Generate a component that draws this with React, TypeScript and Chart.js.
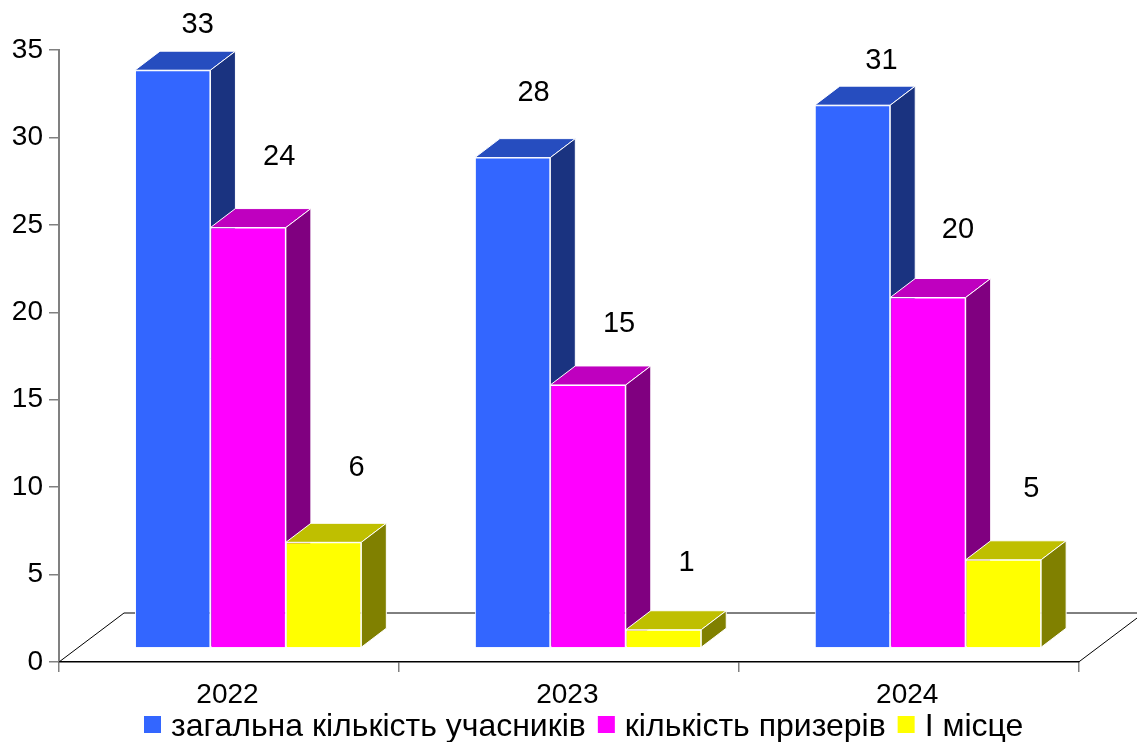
import React, { useEffect, useRef } from "react";
import { Chart, registerables } from "chart.js";

Chart.register(...registerables);

const years = ["2022", "2023", "2024"];
const seriesNames = ["загальна кількість учасників", "кількість призерів", "І місце"];
const totalParticipants = [33, 28, 31];
const prizeWinners = [24, 15, 20];
const firstPlace = [6, 1, 5];

const FONT = "'Liberation Sans', Arial, sans-serif";
const DEPTH_X = 25;
const DEPTH_Y = 19;
const palette = [
  { front: "#3366FF", top: "#264DBF", side: "#1A3380" },
  { front: "#FF00FF", top: "#BF00BF", side: "#800080" },
  { front: "#FFFF00", top: "#BFBF00", side: "#808000" },
];
// label placement relative to the centre/top of each bar's front face [series][year]
const labelNudge = [
  [[25, -47], [21, -67], [29, -46]],
  [[31, -73], [31, -63], [30, -70]],
  [[33, -76], [23, -69], [28, -73]],
];

const box3d = {
  id: "box3d",
  beforeDatasetsDraw(chart: any) {
    const { ctx, scales } = chart;
    const x = scales.x;
    const y0 = scales.y.getPixelForValue(0);
    ctx.save();
    ctx.strokeStyle = "#000";
    ctx.lineWidth = 1;
    ctx.beginPath();
    ctx.moveTo(x.left, y0);
    ctx.lineTo(x.left + 65, y0 - 49);
    ctx.lineTo(x.right + 65, y0 - 49);
    ctx.lineTo(x.right, y0);
    ctx.stroke();
    ctx.lineJoin = "round";
    ctx.strokeStyle = "#fff";
    palette.forEach((c, di) => {
      for (const bar of chart.getDatasetMeta(di).data as any[]) {
        const half = bar.width / 2;
        const l = bar.x - half;
        const r = bar.x + half;
        const t = bar.y;
        const b = bar.base;
        ctx.fillStyle = c.top;
        ctx.beginPath();
        ctx.moveTo(l, t);
        ctx.lineTo(l + DEPTH_X, t - DEPTH_Y);
        ctx.lineTo(r + DEPTH_X, t - DEPTH_Y);
        ctx.lineTo(r, t);
        ctx.closePath();
        ctx.fill();
        ctx.stroke();
        ctx.fillStyle = c.side;
        ctx.beginPath();
        ctx.moveTo(r, t);
        ctx.lineTo(r + DEPTH_X, t - DEPTH_Y);
        ctx.lineTo(r + DEPTH_X, b - DEPTH_Y);
        ctx.lineTo(r, b);
        ctx.closePath();
        ctx.fill();
        ctx.stroke();
      }
    });
    ctx.restore();
  },
  afterDraw(chart: any) {
    const { ctx } = chart;
    ctx.save();
    ctx.fillStyle = "#000";
    ctx.font = `29px ${FONT}`;
    ctx.textAlign = "center";
    ctx.textBaseline = "middle";
    chart.data.datasets.forEach((ds: any, di: number) => {
      chart.getDatasetMeta(di).data.forEach((bar: any, i: number) => {
        const [dx, dy] = labelNudge[di][i];
        ctx.fillText(String(ds.data[i].y), bar.x + dx, bar.y + dy + 2);
      });
    });
    // legend row
    ctx.font = `32px ${FONT}`;
    ctx.textAlign = "left";
    let cx = 144;
    chart.data.datasets.forEach((ds: any) => {
      ctx.fillStyle = ds.backgroundColor;
      ctx.fillRect(cx, 716, 17, 17);
      ctx.fillStyle = "#000";
      ctx.fillText(ds.label, cx + 27, 727);
      cx += 27 + ctx.measureText(ds.label).width + 12;
    });
    ctx.restore();
  },
};

const App = () => {
  const ref = useRef<HTMLCanvasElement>(null);
  useEffect(() => {
    const series = [totalParticipants, prizeWinners, firstPlace];
    const chart = new Chart(ref.current!, {
      type: "bar",
      data: {
        labels: years,
        datasets: series.map((vals, s) => ({
          label: seriesNames[s],
          data: vals.map((y, i) => ({ x: i, y })),
          xAxisID: "x2",
          yAxisID: "y2",
          backgroundColor: palette[s].front,
          borderColor: "#fff",
          borderWidth: 1,
          categoryPercentage: 0.666,
          barPercentage: 1,
        })),
      } as any,
      options: {
        responsive: false,
        animation: false,
        layout: { padding: { top: 50, right: 58.3, left: 0, bottom: 0 } },
        plugins: {
          tooltip: { enabled: false },
          title: { display: false },
          legend: { display: false },
        },
        scales: {
          x: {
            type: "category",
            offset: true,
            afterFit: (s: any) => { s.height = 80; },
            grid: { offset: true, drawOnChartArea: false, drawTicks: true, tickLength: 10, color: "#808080", lineWidth: 1.5 },
            border: { color: "#000", width: 1.5 },
            ticks: { color: "#000", padding: 6, labelOffset: -1.5, font: { family: FONT, size: 28 }, maxRotation: 0 },
          },
          y: {
            type: "linear",
            min: 0,
            max: 35,
            afterFit: (s: any) => { s.width = 59; },
            grid: { drawOnChartArea: false, drawTicks: true, tickLength: 10, color: "#808080", lineWidth: 1.5 },
            border: { color: "#808080", width: 2 },
            ticks: { stepSize: 5, color: "#000", padding: 6, font: { family: FONT, size: 28 } },
          },
          x2: { type: "linear", axis: "x", display: false, offset: false, grid: { offset: false }, min: -0.5565, max: 2.4435, ticks: { stepSize: 1, includeBounds: false } },
          y2: { type: "linear", axis: "y", display: false, min: -0.845, max: 34.155 },
        },
      } as any,
      plugins: [box3d],
    });
    return () => chart.destroy();
  }, []);
  return (
    <div style={{ position: "absolute", left: 0, top: 0, width: 1137, height: 742, background: "#fff" }}>
      <canvas ref={ref} width={1137} height={742} style={{ display: "block" }} />
    </div>
  );
};

export default App;
